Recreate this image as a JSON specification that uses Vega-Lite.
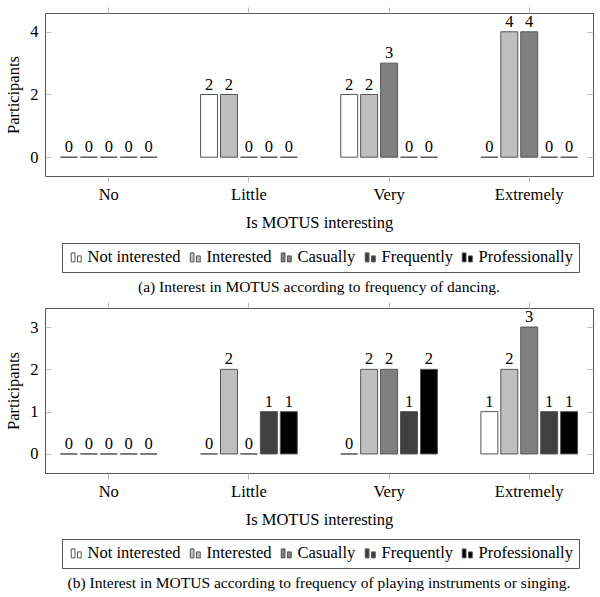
{
  "$schema": "https://vega.github.io/schema/vega-lite/v6.json",
  "padding": {"left": 5, "top": 6, "right": 5, "bottom": 2},
  "config": {
    "font": "Liberation Serif",
    "view": {"stroke": "#555", "strokeWidth": 1},
    "axis": {"labelFont": "Liberation Serif", "titleFont": "Liberation Serif", "labelFontSize": 16.5, "titleFontSize": 16.5, "titleFontWeight": "normal", "labelColor": "#000", "titleColor": "#000", "tickColor": "#bbb", "domain": false, "grid": false},
    "legend": {"labelFont": "Liberation Serif", "labelFontSize": 16.5, "labelColor": "#000"},
    "concat": {"spacing": 5}
  },
  "datasets": {
    "a": [
      {"cat": "No", "series": "Not interested", "v": 0},
      {"cat": "No", "series": "Interested", "v": 0},
      {"cat": "No", "series": "Casually", "v": 0},
      {"cat": "No", "series": "Frequently", "v": 0},
      {"cat": "No", "series": "Professionally", "v": 0},
      {"cat": "Little", "series": "Not interested", "v": 2},
      {"cat": "Little", "series": "Interested", "v": 2},
      {"cat": "Little", "series": "Casually", "v": 0},
      {"cat": "Little", "series": "Frequently", "v": 0},
      {"cat": "Little", "series": "Professionally", "v": 0},
      {"cat": "Very", "series": "Not interested", "v": 2},
      {"cat": "Very", "series": "Interested", "v": 2},
      {"cat": "Very", "series": "Casually", "v": 3},
      {"cat": "Very", "series": "Frequently", "v": 0},
      {"cat": "Very", "series": "Professionally", "v": 0},
      {"cat": "Extremely", "series": "Not interested", "v": 0},
      {"cat": "Extremely", "series": "Interested", "v": 4},
      {"cat": "Extremely", "series": "Casually", "v": 4},
      {"cat": "Extremely", "series": "Frequently", "v": 0},
      {"cat": "Extremely", "series": "Professionally", "v": 0}
    ],
    "b": [
      {"cat": "No", "series": "Not interested", "v": 0},
      {"cat": "No", "series": "Interested", "v": 0},
      {"cat": "No", "series": "Casually", "v": 0},
      {"cat": "No", "series": "Frequently", "v": 0},
      {"cat": "No", "series": "Professionally", "v": 0},
      {"cat": "Little", "series": "Not interested", "v": 0},
      {"cat": "Little", "series": "Interested", "v": 2},
      {"cat": "Little", "series": "Casually", "v": 0},
      {"cat": "Little", "series": "Frequently", "v": 1},
      {"cat": "Little", "series": "Professionally", "v": 1},
      {"cat": "Very", "series": "Not interested", "v": 0},
      {"cat": "Very", "series": "Interested", "v": 2},
      {"cat": "Very", "series": "Casually", "v": 2},
      {"cat": "Very", "series": "Frequently", "v": 1},
      {"cat": "Very", "series": "Professionally", "v": 2},
      {"cat": "Extremely", "series": "Not interested", "v": 1},
      {"cat": "Extremely", "series": "Interested", "v": 2},
      {"cat": "Extremely", "series": "Casually", "v": 3},
      {"cat": "Extremely", "series": "Frequently", "v": 1},
      {"cat": "Extremely", "series": "Professionally", "v": 1}
    ]
  },
  "vconcat": [
    {
      "data": {"name": "a"},
      "width": 548,
      "height": 163,
      "title": {"text": "(a) Interest in MOTUS according to frequency of dancing.", "orient": "bottom", "anchor": "middle", "font": "Liberation Serif", "fontSize": 15.5, "fontWeight": "normal", "color": "#000", "offset": 7},
      "layer": [
        {
          "mark": {"type": "bar", "stroke": "#555", "strokeWidth": 1},
          "encoding": {
            "x": {"field": "cat", "type": "nominal", "sort": ["No", "Little", "Very", "Extremely"], "scale": {"paddingInner": 0.31, "paddingOuter": 0.11}, "axis": {"orient": "bottom", "title": "Is MOTUS interesting", "labelAngle": 0, "tickSize": 6, "labelPadding": 4, "titlePadding": 12}},
            "xOffset": {"field": "series", "type": "nominal", "scale": {"domain": ["Not interested", "Interested", "Casually", "Frequently", "Professionally"], "paddingInner": 0.15, "paddingOuter": 0}},
            "y": {"field": "v", "type": "quantitative", "scale": {"domain": [-0.6, 4.6], "nice": false, "zero": false}, "axis": {"orient": "left", "title": "Participants", "values": [0, 2, 4], "tickSize": -6, "labelPadding": 13, "titlePadding": 8}},
            "fill": {"field": "series", "type": "nominal", "scale": {"domain": ["Not interested", "Interested", "Casually", "Frequently", "Professionally"], "range": ["#ffffff", "#bfbfbf", "#808080", "#404040", "#000000"]},
              "legend": {"orient": "none", "legendX": 17, "legendY": 230, "direction": "horizontal", "columns": 5, "title": null, "symbolType": "M-1,-0.9H-0.25V0.9H-1Z M0.25,-0.3H1V0.9H0.25Z", "symbolSize": 100, "symbolStrokeColor": "#555", "symbolStrokeWidth": 1, "labelFont": "Liberation Serif", "labelFontSize": 16.5, "labelOffset": 3, "columnPadding": 6, "padding": 6, "strokeColor": "#555", "fillColor": "#ffffff"}}
          }
        },
        {
          "mark": {"type": "text", "baseline": "alphabetic", "dy": -5, "fontSize": 16.5, "font": "Liberation Serif", "color": "#000"},
          "encoding": {
            "x": {"field": "cat", "type": "nominal", "sort": ["No", "Little", "Very", "Extremely"], "axis": {"orient": "top", "title": null, "labels": false, "tickSize": 6}},
            "xOffset": {"field": "series", "type": "nominal", "scale": {"domain": ["Not interested", "Interested", "Casually", "Frequently", "Professionally"]}},
            "y": {"field": "v", "type": "quantitative", "axis": {"orient": "right", "title": null, "labels": false, "values": [0, 2, 4], "tickSize": -6}},
            "text": {"field": "v", "type": "quantitative"}
          }
        }
      ],
      "resolve": {"axis": {"x": "independent", "y": "independent"}}
    },
    {
      "data": {"name": "b"},
      "width": 548,
      "height": 165,
      "title": {"text": "(b) Interest in MOTUS according to frequency of playing instruments or singing.", "orient": "bottom", "anchor": "middle", "font": "Liberation Serif", "fontSize": 15.5, "fontWeight": "normal", "color": "#000", "offset": 7},
      "layer": [
        {
          "mark": {"type": "bar", "stroke": "#555", "strokeWidth": 1},
          "encoding": {
            "x": {"field": "cat", "type": "nominal", "sort": ["No", "Little", "Very", "Extremely"], "scale": {"paddingInner": 0.31, "paddingOuter": 0.11}, "axis": {"orient": "bottom", "title": "Is MOTUS interesting", "labelAngle": 0, "tickSize": 6, "labelPadding": 4, "titlePadding": 12}},
            "xOffset": {"field": "series", "type": "nominal", "scale": {"domain": ["Not interested", "Interested", "Casually", "Frequently", "Professionally"], "paddingInner": 0.15, "paddingOuter": 0}},
            "y": {"field": "v", "type": "quantitative", "scale": {"domain": [-0.45, 3.45], "nice": false, "zero": false}, "axis": {"orient": "left", "title": "Participants", "values": [0, 1, 2, 3], "tickSize": -6, "labelPadding": 13, "titlePadding": 8}},
            "fill": {"field": "series", "type": "nominal", "scale": {"domain": ["Not interested", "Interested", "Casually", "Frequently", "Professionally"], "range": ["#ffffff", "#bfbfbf", "#808080", "#404040", "#000000"]},
              "legend": {"orient": "none", "legendX": 17, "legendY": 231, "direction": "horizontal", "columns": 5, "title": null, "symbolType": "M-1,-0.9H-0.25V0.9H-1Z M0.25,-0.3H1V0.9H0.25Z", "symbolSize": 100, "symbolStrokeColor": "#555", "symbolStrokeWidth": 1, "labelFont": "Liberation Serif", "labelFontSize": 16.5, "labelOffset": 3, "columnPadding": 6, "padding": 6, "strokeColor": "#555", "fillColor": "#ffffff"}}
          }
        },
        {
          "mark": {"type": "text", "baseline": "alphabetic", "dy": -5, "fontSize": 16.5, "font": "Liberation Serif", "color": "#000"},
          "encoding": {
            "x": {"field": "cat", "type": "nominal", "sort": ["No", "Little", "Very", "Extremely"], "axis": {"orient": "top", "title": null, "labels": false, "tickSize": 6}},
            "xOffset": {"field": "series", "type": "nominal", "scale": {"domain": ["Not interested", "Interested", "Casually", "Frequently", "Professionally"]}},
            "y": {"field": "v", "type": "quantitative", "axis": {"orient": "right", "title": null, "labels": false, "values": [0, 1, 2, 3], "tickSize": -6}},
            "text": {"field": "v", "type": "quantitative"}
          }
        }
      ],
      "resolve": {"axis": {"x": "independent", "y": "independent"}}
    }
  ],
  "resolve": {"scale": {"y": "independent", "fill": "independent"}, "legend": {"fill": "independent"}}
}
